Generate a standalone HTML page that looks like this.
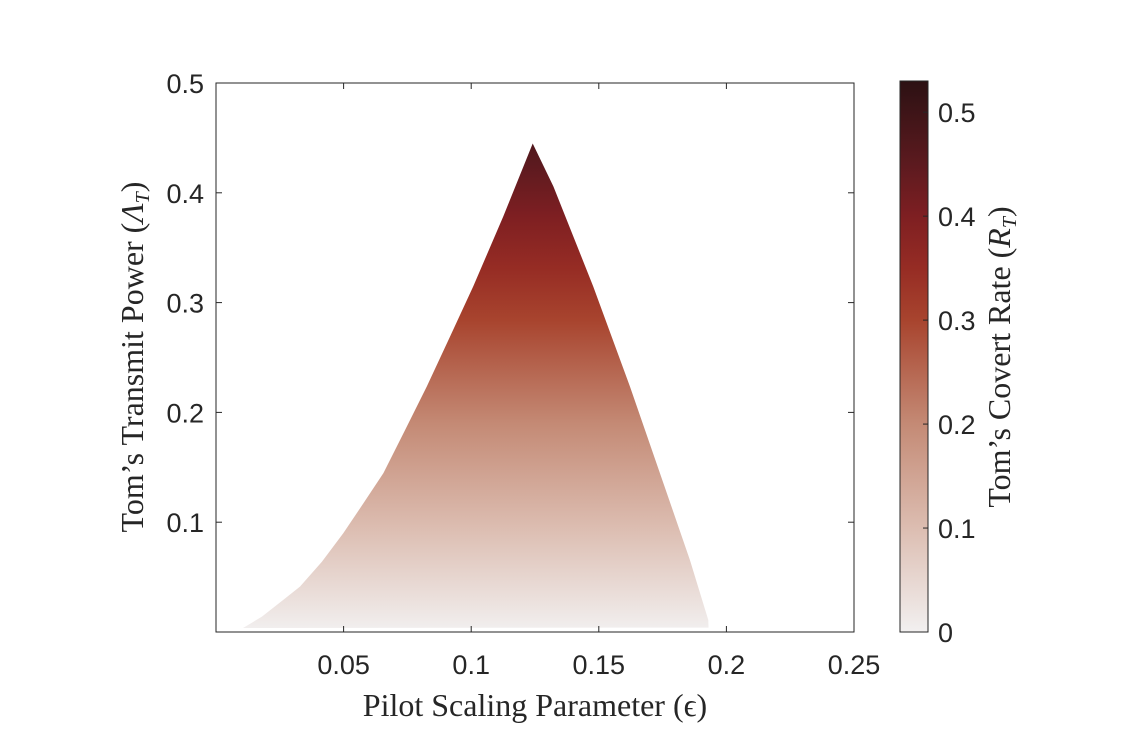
<!DOCTYPE html>
<html><head><meta charset="utf-8">
<style>
body{margin:0;background:#fff;}
svg text{font-family:"Liberation Sans",sans-serif;fill:#262626;}
.serif{font-family:"Liberation Serif",serif;}
</style></head>
<body>
<svg id="chart" width="1148" height="732" xmlns="http://www.w3.org/2000/svg">
<defs>
<linearGradient id="cmap" gradientUnits="userSpaceOnUse" x1="0" y1="632" x2="0" y2="81"></linearGradient>
</defs>
<g id="plot"></g>
</svg>
<script>
const xTicks=[0.05,0.1,0.15,0.2,0.25];
const yTicks=[0.1,0.2,0.3,0.4,0.5];
const cTicks=[0,0.1,0.2,0.3,0.4,0.5];
const leftEps=[0.0106,0.018,0.0263,0.0329,0.0415,0.0499,0.0577,0.0656,0.0741,0.0826,0.0917,0.1008,0.1126,0.1241];
const leftLam=[0.0036,0.014,0.0292,0.0413,0.064,0.0900,0.117,0.1447,0.184,0.2236,0.269,0.3148,0.3786,0.4449];
const rightEps=[0.1241,0.1322,0.1478,0.1622,0.1753,0.1857,0.1929,0.193];
const rightLam=[0.4449,0.4059,0.3148,0.2236,0.1356,0.0656,0.0109,0.004];
const cmapVals=[0,0.1,0.2,0.3,0.35,0.4,0.45,0.53];
const cmapCols=["#f2f0f0","#dcbdb1","#c48a75","#a8442e","#962c24","#7e1f22","#5c1a1f","#2c1113"];
const cMax=0.53;
const X0=216,X1=854,Y0=632,Y1=83;
const xs=v=>X0+v/0.25*(X1-X0);
const ys=v=>Y0-v/0.5*(Y0-Y1);
const CB={x:900,w:28,top:81,bot:632};
const cs=v=>CB.bot-v/cMax*(CB.bot-CB.top);
const NS="http://www.w3.org/2000/svg";
const g=document.getElementById('plot');
const grad=document.getElementById('cmap');
function mk(t,a,p){const e=document.createElementNS(NS,t);for(const k in a)e.setAttribute(k,a[k]);(p||g).appendChild(e);return e;}
cmapVals.forEach((v,i)=>{mk('stop',{offset:v/cMax,'stop-color':cmapCols[i]},grad);});
let pts=[];
leftEps.forEach((e,i)=>pts.push(xs(e)+','+ys(leftLam[i])));
rightEps.forEach((e,i)=>pts.push(xs(e)+','+ys(rightLam[i])));
const reg=mk('polygon',{points:pts.join(' '),fill:'url(#cmap)'});


const box=mk('rect',{x:X0,y:Y1,width:X1-X0,height:Y0-Y1,fill:'none',stroke:'#262626','stroke-width':1});


xTicks.forEach(t=>{const x=xs(t);
 mk('line',{x1:x,x2:x,y1:Y0,y2:Y0-6,stroke:'#262626'});
 mk('line',{x1:x,x2:x,y1:Y1,y2:Y1+6,stroke:'#262626'});
 const tx=mk('text',{x:x,y:Y0+42,'text-anchor':'middle','font-size':27});tx.textContent=String(t);
 
 
});
yTicks.forEach(t=>{const y=ys(t);
 mk('line',{x1:X0,x2:X0+6,y1:y,y2:y,stroke:'#262626'});
 mk('line',{x1:X1,x2:X1-6,y1:y,y2:y,stroke:'#262626'});
 const tx=mk('text',{x:X0-12,y:y+10,'text-anchor':'end','font-size':27});tx.textContent=String(t);
 
 
});
const cb=mk('rect',{x:CB.x,y:CB.top,width:CB.w,height:CB.bot-CB.top,fill:'url(#cmap)',stroke:'#262626','stroke-width':1});


cTicks.forEach(t=>{const y=cs(t);
 mk('line',{x1:CB.x+CB.w,x2:CB.x+CB.w-5,y1:y,y2:y,stroke:'#262626'});
 const tx=mk('text',{x:CB.x+CB.w+10,y:y+10,'font-size':27});tx.textContent=String(t);
 
 
});
const xt=mk('text',{x:535,y:716,'text-anchor':'middle','font-size':32,class:'serif'});
xt.textContent='Pilot Scaling Parameter (ϵ)';


const yt=mk('text',{x:0,y:0,'text-anchor':'middle','font-size':32,class:'serif',transform:'translate(143,357) rotate(-90)'});
yt.innerHTML='Tom’s Transmit Power (<tspan font-style="italic">Λ</tspan><tspan font-style="italic" font-size="20" dy="6">T</tspan><tspan dy="-6">)</tspan>';


const ct=mk('text',{x:0,y:0,'text-anchor':'middle','font-size':32,class:'serif',transform:'translate(1010,357) rotate(-90)'});
ct.innerHTML='Tom’s Covert Rate (<tspan font-style="italic">R</tspan><tspan font-style="italic" font-size="20" dy="6">T</tspan><tspan dy="-6">)</tspan>';


</script>
</body></html>
